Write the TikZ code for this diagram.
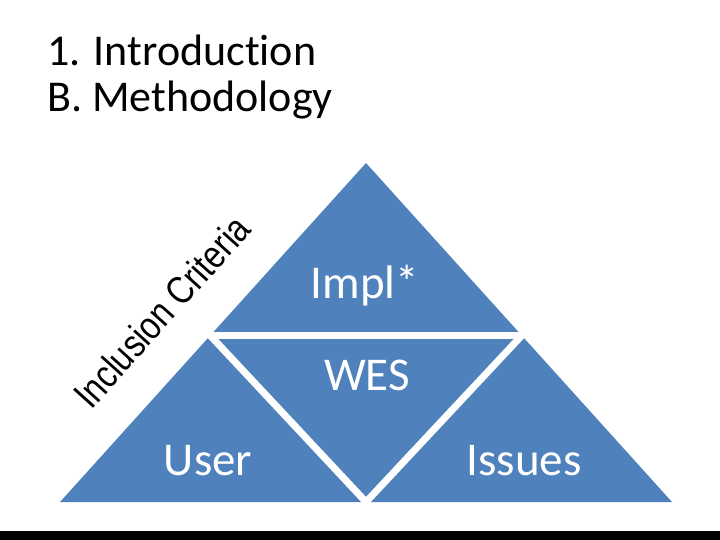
\documentclass[tikz,border=0pt]{standalone}
\usepackage{fontspec}
\setmainfont{Carlito}[Ligatures={NoCommon}]
\newfontfamily\arialfont{Liberation Sans}
\usetikzlibrary{calc}
\definecolor{cblue}{HTML}{4F81BD}
\tikzset{
  every picture/.style={x=1pt, y=-1pt},
  title/.style={font=\fontsize{44}{48}\selectfont, anchor=base west, inner sep=0pt},
  lbl/.style={font=\fontsize{47}{50}\selectfont, text=white, anchor=base, inner sep=0pt},
  gap/.style={draw=white, line width=7pt},
  wordart/.style={font=\arialfont\fontsize{32.5}{36}\selectfont, anchor=base west, inner sep=0pt, rotate=48},
}

\begin{document}
\begin{tikzpicture}
  \useasboundingbox (0,0) rectangle (720,540);
  % heading
  \node[title] (intro) at (47,66) {1. Introduction};
  \node[title] (meth) at (47,112) {B. Methodology};
  % pyramid
  \coordinate (apex) at (366,163);
  \coordinate (bl) at (60,502);
  \coordinate (br) at (672,502);
  \coordinate (ml) at ($(bl)!0.491!(apex)$);
  \coordinate (mr) at ($(br)!0.491!(apex)$);
  \coordinate (mb) at ($(bl)!0.5!(br)$);
  \fill[cblue] (bl) -- (apex) -- (br) -- cycle;
  \draw[gap] (ml) -- (mr);
  \draw[gap] (ml) -- (mb) -- (mr);
  \node[lbl] (impl) at (365,298) {Impl*};
  \node[lbl] (wes) at (367,390) {WES};
  \node[lbl] (user) at (208,475) {User};
  \node[lbl] (issues) at (524,475) {Issues};
  \node[wordart] (incl) at (91,411) {\scalebox{1}[1.2]{Inclusion Criteria}};
  % bottom bar
  \fill[black] (0,531) rectangle (720,540);
\end{tikzpicture}
\end{document}
